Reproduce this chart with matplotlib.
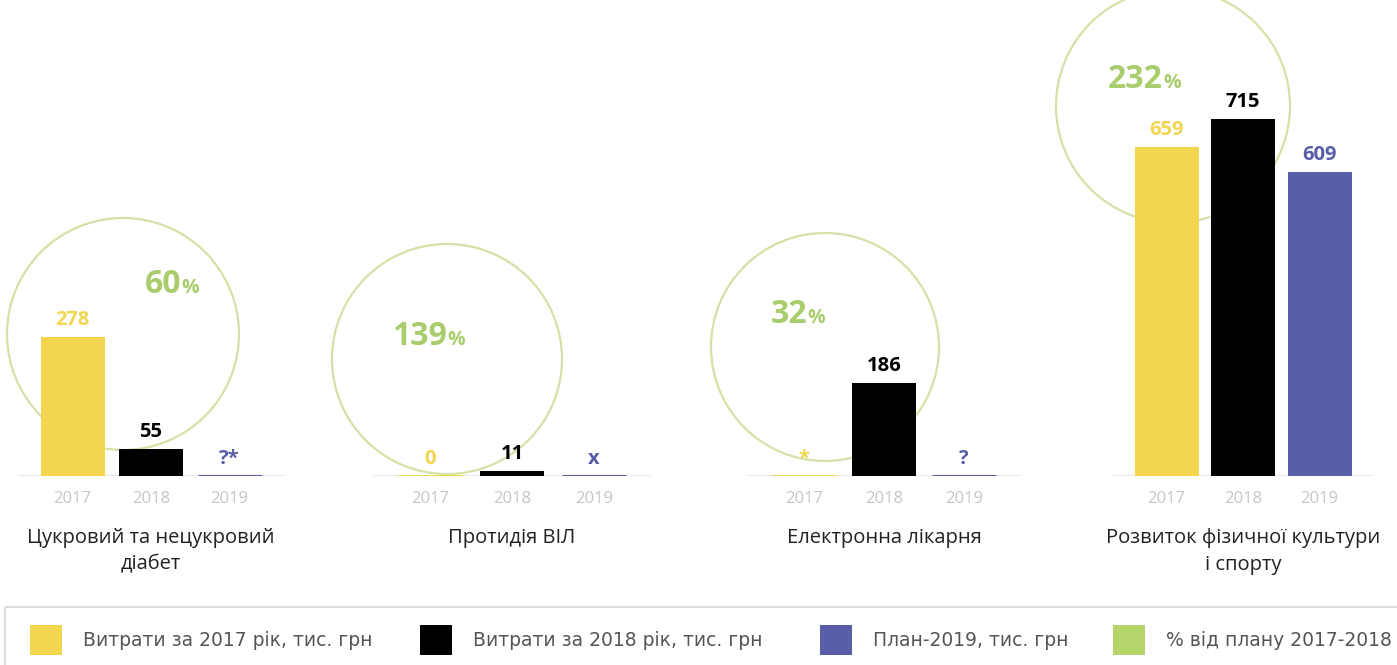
import numpy as np
import matplotlib
matplotlib.use("Agg")
import matplotlib.pyplot as plt
from matplotlib.patches import Circle, Rectangle

plt.rcParams['font.family'] = ['Open Sans', 'DejaVu Sans']

# ---- data ----
years = ["2017", "2018", "2019"]
categories = ["Цукровий та нецукровий\nдіабет", "Протидія ВІЛ",
              "Електронна лікарня", "Розвиток фізичної культури\nі спорту"]
spend_2017 = [278, 0, np.nan, 659]
spend_2018 = [55, 11, 186, 715]
plan_2019 = [np.nan, np.nan, np.nan, 609]
labels_2017 = ["278", "0", "*", "659"]
labels_2018 = ["55", "11", "186", "715"]
labels_2019 = ["?*", "x", "?", "609"]
plan_pct = [60, 139, 32, 232]
legend_labels = ["Витрати за 2017 рік, тис. грн", "Витрати за 2018 рік, тис. грн",
                 "План-2019, тис. грн", "% від плану 2017-2018"]

# ---- style ----
YELLOW, BLACK, PURPLE, GREEN = "#f2d650", "#000000", "#5a5ea8", "#b5d56a"
PCT_GREEN = "#a9cd6c"
RING = "#d3e2a6"
bar_colors = [YELLOW, BLACK, PURPLE]

W, H = 1397, 665
BASE_Y = 476           # baseline, px from top
PX_PER_UNIT = 0.5
centers = [151, 512, 884, 1243]
spacing = [78.5, 82, 80, 76.5]
rings = [(123, 334, 116), (447, 359, 115), (825, 347, 114), (1173, 106, 117)]
pct_anchor = [(181, 293), (447, 345), (807, 323), (1163, 88)]

fig = plt.figure(figsize=(W / 100, H / 100), dpi=100)
fig.patch.set_facecolor("white")

# pixel-space overlay for rings, percentages and legend
ov = fig.add_axes([0, 0, 1, 1], zorder=0)
ov.set_xlim(0, W)
ov.set_ylim(H, 0)
ov.axis("off")

for (cx, cy, r), (px, py), pct in zip(rings, pct_anchor, plan_pct):
    ov.add_patch(Circle((cx, cy), r, fill=False, edgecolor=RING, lw=1.6))
    ov.text(px, py, f"{pct}", ha="right", va="baseline", fontsize=23,
            fontweight="bold", color=PCT_GREEN)
    ov.text(px + 0.5, py, "%", ha="left", va="baseline", fontsize=14,
            fontweight="bold", color=PCT_GREEN)

series = list(zip(spend_2017, spend_2018, plan_2019))
labels = list(zip(labels_2017, labels_2018, labels_2019))

half = 1.7
for i in range(4):
    sp = spacing[i]
    left_px = centers[i] - half * sp
    width_px = 2 * half * sp
    ax = fig.add_axes([left_px / W, (H - BASE_Y) / H, width_px / W, BASE_Y / H], zorder=2)
    ax.patch.set_alpha(0)
    ax.set_xlim(1 - half, 1 + half)
    ax.set_ylim(0, BASE_Y / PX_PER_UNIT)
    for s in ax.spines.values():
        s.set_visible(False)
    ax.set_yticks([])
    ax.set_xticks([0, 1, 2], years)
    ax.tick_params(axis="x", length=0, pad=11, labelsize=12, labelcolor="#c6c6c6")

    ax.axhline(0, color="#e4e4e4", lw=1.2, zorder=1)
    bw = 64 / sp
    vals = np.array(series[i], dtype=float)
    heights = np.nan_to_num(vals)
    x = np.arange(3)
    ax.bar(x, heights, width=bw, color=bar_colors, zorder=2)
    for j in range(3):
        if heights[j] == 0:
            ax.hlines(0, j - bw / 2, j + bw / 2, color=bar_colors[j], lw=2.2, zorder=3)
        ax.annotate(labels[i][j], (j, heights[j]), xytext=(0, 5),
                    textcoords="offset points", ha="center", va="bottom",
                    fontsize=14.5, fontweight="bold", color=bar_colors[j])

    fig.text(centers[i] / W, 1 - 528 / H, categories[i], ha="center", va="top",
             fontsize=14.5, color="#222222", linespacing=1.45)

# legend
ov.add_patch(Rectangle((5, 607), W - 3, 62, fill=False, edgecolor="#dddddd", lw=1.6))
leg_x = [30, 420, 820, 1113]
for lx, c, t in zip(leg_x, [YELLOW, BLACK, PURPLE, GREEN], legend_labels):
    ov.add_patch(Rectangle((lx, 625), 32, 30, facecolor=c, edgecolor="none"))
    ov.text(lx + 53, 640, t, ha="left", va="center", fontsize=13.5,
            color="#555555", family="DejaVu Sans")

fig.savefig("out.png", dpi=100, facecolor="white")
